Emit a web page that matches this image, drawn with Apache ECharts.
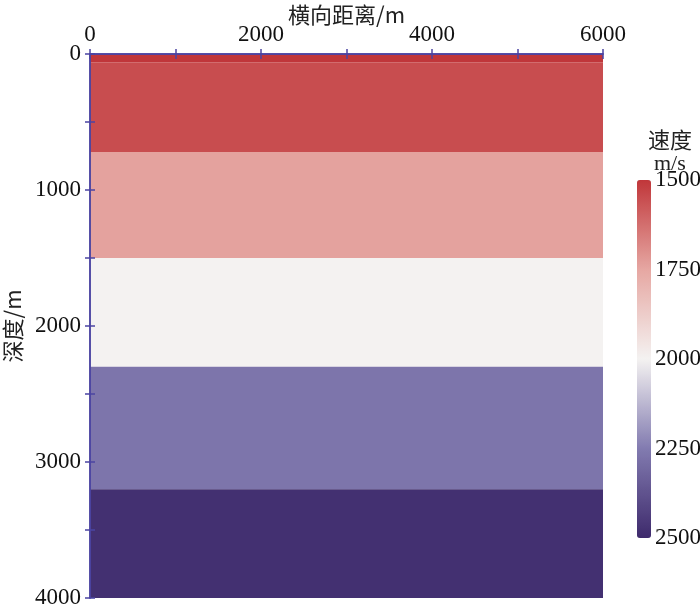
<!DOCTYPE html>
<html>
<head>
<meta charset="utf-8">
<script src="https://cdn.jsdelivr.net/npm/echarts@6/dist/echarts.min.js"></script>
<style>
  html, body { margin: 0; padding: 0; background: #fff; }
  #chart { width: 700px; height: 607px; }
</style>
</head>
<body>
<div id="chart"></div>
<script>
// 层状速度模型
const layerTops = [0, 60, 720, 1500, 2300, 3200];
const layerBottoms = [60, 720, 1500, 2300, 3200, 4000];
const layerVelocities = [1500, 1550, 1740, 2000, 2270, 2480];
const xRange = [0, 6000];
const depthRange = [0, 4000];
const velocityRange = [1500, 2500];
const velocityColors = ['#c0363a', '#e6a7a2', '#f4f2f1', '#827bb0', '#3e2a6c'];

const axisColor = '#4b44a2';
const serif = 'Liberation Serif';
const cjk = 'Noto Sans CJK SC';
const plain = v => String(v);

const layerData = layerTops.map((top, i) => [xRange[0], xRange[1], top, layerBottoms[i], layerVelocities[i]]);

const chart = echarts.init(document.getElementById('chart'));

const frameAxis = {
  z: 5,
  axisLine: { show: true, lineStyle: { color: axisColor, width: 1.5 } },
  axisTick: { show: true, length: 5, lineStyle: { color: axisColor, width: 1.5 } },
  minorTick: { show: true, splitNumber: 2, length: 5, lineStyle: { color: axisColor, width: 1.5 } },
  splitLine: { show: false }
};

const option = {
  animation: false,
  grid: [
    { left: 90, top: 54, width: 513, height: 544, containLabel: false, outerBoundsMode: 'none' },
    { left: 637, top: 180, width: 14, height: 358, containLabel: false, outerBoundsMode: 'none' }
  ],
  xAxis: [
    Object.assign({}, frameAxis, {
      type: 'value', gridIndex: 0, position: 'top',
      min: xRange[0], max: xRange[1], interval: 2000,
      name: '横向距离/m', nameLocation: 'middle', nameGap: 28, nameMoveOverlap: false,
      nameTextStyle: { fontFamily: cjk, fontSize: 22, color: '#222' },
      axisLabel: { margin: 8, fontFamily: serif, fontSize: 23, color: '#111', formatter: plain }
    }),
    Object.assign({}, frameAxis, {
      type: 'value', gridIndex: 0, position: 'bottom',
      min: xRange[0], max: xRange[1], interval: 2000,
      axisLabel: { show: false }
    }),
    { type: 'value', gridIndex: 1, show: false, min: 0, max: 1 }
  ],
  yAxis: [
    Object.assign({}, frameAxis, {
      type: 'value', gridIndex: 0, position: 'left', inverse: true,
      min: depthRange[0], max: depthRange[1], interval: 1000,
      name: '深度/m', nameLocation: 'middle', nameGap: 66, nameRotate: 90, nameMoveOverlap: false,
      nameTextStyle: { fontFamily: cjk, fontSize: 22, color: '#222' },
      axisLabel: { margin: 9, fontFamily: serif, fontSize: 23, color: '#111', formatter: plain }
    }),
    Object.assign({}, frameAxis, {
      type: 'value', gridIndex: 0, position: 'right', inverse: true,
      min: depthRange[0], max: depthRange[1], interval: 1000,
      axisLabel: { show: false }
    }),
    {
      type: 'value', gridIndex: 1, position: 'right', inverse: true,
      min: velocityRange[0], max: velocityRange[1], interval: 250,
      axisLine: { show: false },
      axisTick: { show: false },
      splitLine: { show: false },
      axisLabel: { margin: 4, fontFamily: serif, fontSize: 23, color: '#111', formatter: plain }
    }
  ],
  visualMap: {
    type: 'continuous',
    seriesIndex: 0,
    dimension: 4,
    min: velocityRange[0],
    max: velocityRange[1],
    inverse: true,
    calculable: false,
    showLabel: false,
    text: ['', ''],
    left: 637,
    top: 180,
    itemWidth: 14,
    itemHeight: 358,
    padding: 0,
    inRange: { color: velocityColors }
  },
  graphic: [
    { type: 'text', left: 648, top: 129, style: { text: '速度', font: '22px "Noto Sans CJK SC"', fill: '#222' } },
    { type: 'text', left: 654, top: 153, style: { text: 'm/s', font: '22px "Liberation Serif"', fill: '#222' } }
  ],
  series: [{
    type: 'custom',
    xAxisIndex: 0,
    yAxisIndex: 0,
    encode: { x: [0, 1], y: [2, 3] },
    data: layerData,
    renderItem: function (params, api) {
      const p0 = api.coord([api.value(0), api.value(2)]);
      const p1 = api.coord([api.value(1), api.value(3)]);
      return {
        type: 'rect',
        shape: { x: p0[0], y: p0[1], width: p1[0] - p0[0], height: p1[1] - p0[1] },
        style: { fill: api.visual('color') }
      };
    },
    z: 1
  }]
};

chart.setOption(option);
</script>
</body>
</html>
